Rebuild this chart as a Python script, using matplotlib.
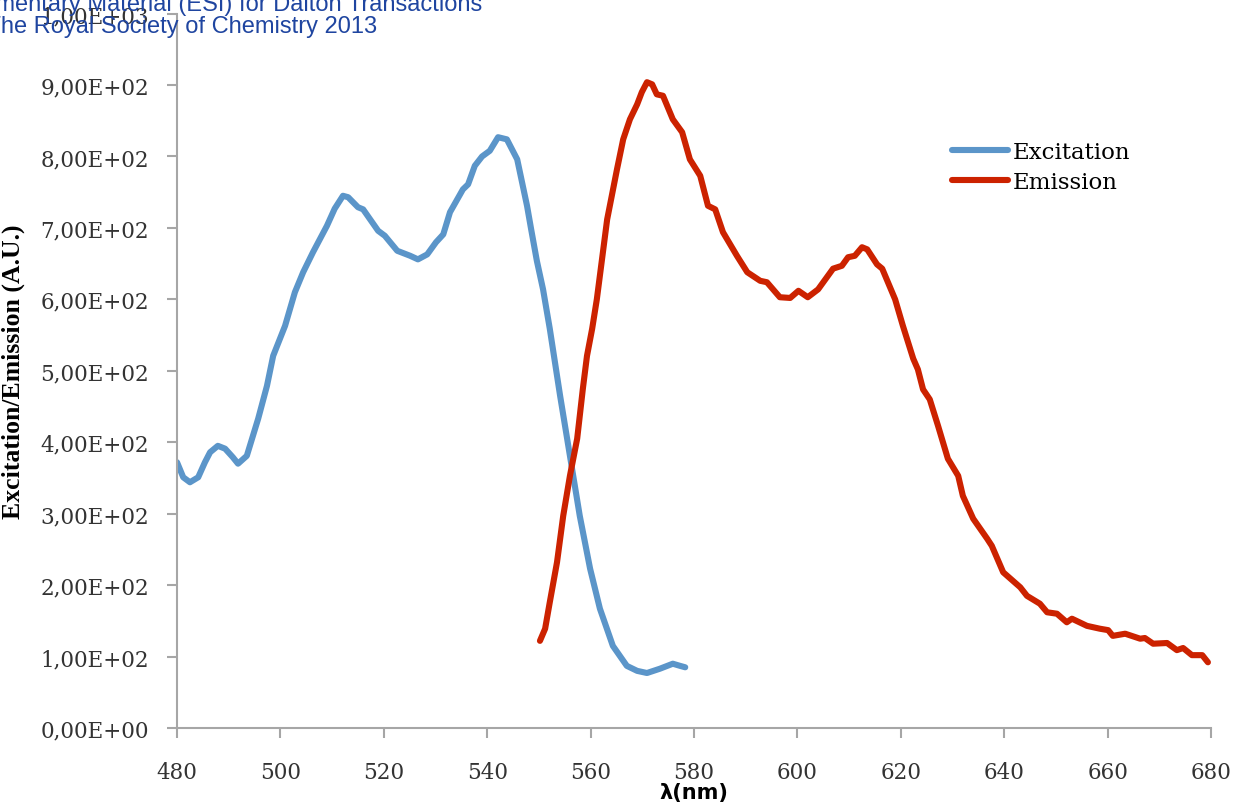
import numpy as np
import matplotlib
matplotlib.use('Agg')
import matplotlib.pyplot as plt

# Excitation spectrum
exc_nm = [480.0, 481.2, 482.5, 484.1, 485.4, 486.4, 487.9, 489.3, 490.8, 491.8,
          493.5, 495.7, 497.4, 498.6, 500.9, 502.8, 504.4, 506.3, 509.0, 510.5,
          512.1, 513.1, 515.0, 516.0, 518.9, 520.2, 522.6, 525.1, 526.6, 528.4,
          530.1, 531.5, 532.8, 535.3, 536.3, 537.6, 539.0, 540.5, 542.1, 543.8,
          545.8, 547.7, 548.5, 549.6, 550.8, 552.1, 554.1, 556.0, 557.9, 559.9,
          561.8, 564.3, 567.0, 569.0, 570.9, 573.4, 575.9, 577.3, 578.3]
exc_val = [372, 351, 344, 351, 372, 386, 395, 391, 379, 370,
           381, 433, 479, 521, 563, 610, 638, 666, 703, 727,
           745, 743, 729, 726, 696, 689, 668, 661, 656, 663,
           680, 691, 722, 754, 761, 787, 800, 808, 827, 824,
           796, 731, 698, 654, 614, 559, 465, 381, 297, 223,
           167, 115, 87, 80, 77, 83, 90, 87, 85]

# Emission spectrum
em_nm = [550.2, 551.2, 552.1, 553.5, 554.7, 556.0, 557.4, 558.5, 559.3, 560.3,
         561.2, 563.2, 565.1, 566.3, 567.6, 569.0, 569.9, 570.9, 571.9, 572.8,
         574.0, 575.9, 577.7, 579.2, 581.2, 582.7, 584.1, 585.6, 588.3, 590.3,
         592.8, 594.1, 596.6, 598.6, 600.2, 602.0, 604.0, 606.9, 608.6, 609.8,
         611.1, 612.5, 613.5, 615.4, 616.4, 618.9, 620.4, 622.4, 623.3, 624.3,
         625.6, 627.2, 629.1, 631.1, 632.0, 634.0, 636.7, 637.6, 639.8, 643.1,
         644.4, 646.9, 648.3, 650.2, 652.1, 653.1, 656.0, 658.5, 660.1, 661.0,
         663.4, 666.3, 667.2, 668.8, 671.5, 673.4, 674.6, 676.3, 678.3, 679.4]
em_val = [122, 139, 176, 232, 297, 353, 405, 475, 521, 559,
          600, 712, 782, 824, 852, 873, 890, 904, 901, 887,
          885, 852, 834, 796, 773, 731, 726, 694, 661, 638,
          626, 624, 603, 602, 612, 603, 614, 643, 647, 659,
          661, 673, 670, 649, 643, 600, 563, 517, 502, 474,
          460, 423, 377, 353, 325, 293, 265, 255, 218, 197,
          185, 174, 162, 160, 148, 153, 143, 139, 137, 129,
          132, 125, 126, 118, 119, 109, 112, 102, 102, 92]

x_ticks = [480, 500, 520, 540, 560, 580, 600, 620, 640, 660, 680]
y_ticks = [0, 100, 200, 300, 400, 500, 600, 700, 800, 900, 1000]


def sci_comma(v, pos=None):
    # Excel style: 9,00E+02
    return f"{v:.2E}".replace('.', ',')


fig = plt.figure(figsize=(12.37, 8.12), dpi=100)
ax = fig.add_axes([0.1431, 0.1022, 0.979 - 0.1431, 0.982 - 0.1022])

ax.plot(exc_nm, exc_val, color='#5b95c9', lw=4.4, label='Excitation',
        solid_joinstyle='round', solid_capstyle='round')
ax.plot(em_nm, em_val, color='#cc2200', lw=4.4, label='Emission',
        solid_joinstyle='round', solid_capstyle='round')

ax.set_xlim(480, 680)
ax.set_ylim(0, 1000)
ax.set_xticks(x_ticks)
ax.set_yticks(y_ticks)
ax.yaxis.set_major_formatter(plt.FuncFormatter(sci_comma))

for side in ['top', 'right']:
    ax.spines[side].set_visible(False)
for side in ['left', 'bottom']:
    ax.spines[side].set_color('#a6a6a6')
    ax.spines[side].set_linewidth(1.5)
ax.tick_params(axis='both', direction='out', length=7, width=1.5,
               color='#a6a6a6', labelcolor='#333333', labelsize=15.5)
ax.tick_params(axis='y', pad=13)
ax.tick_params(axis='x', pad=17)
for lab in ax.get_xticklabels() + ax.get_yticklabels():
    lab.set_family('DejaVu Serif')

ax.set_xlabel('λ(nm)', fontsize=15, fontweight='bold', family='DejaVu Sans',
              labelpad=-1)
ax.set_ylabel('Excitation/Emission (A.U.)', fontsize=18.5, fontweight='bold',
              family='Liberation Serif')
ax.yaxis.set_label_coords(-0.147, 0.5)

ax.legend(loc='upper left', bbox_to_anchor=(0.7495, 0.822), frameon=False,
          prop={'family': 'DejaVu Serif', 'size': 16.5}, handlelength=2.45,
          handletextpad=0.22, labelspacing=0.34, borderaxespad=0, borderpad=0)

# header text from the page, clipped at the left edge
fig.text(482 / 1237, 1 - 11 / 812,
         'Electronic Supplementary Material (ESI) for Dalton Transactions',
         ha='right', va='baseline', color='#1f45a0', fontsize=17,
         family='Liberation Sans')
fig.text(377 / 1237, 1 - 33 / 812,
         'This journal is © The Royal Society of Chemistry 2013',
         ha='right', va='baseline', color='#1f45a0', fontsize=17,
         family='Liberation Sans')

fig.savefig('out.png', dpi=100)
